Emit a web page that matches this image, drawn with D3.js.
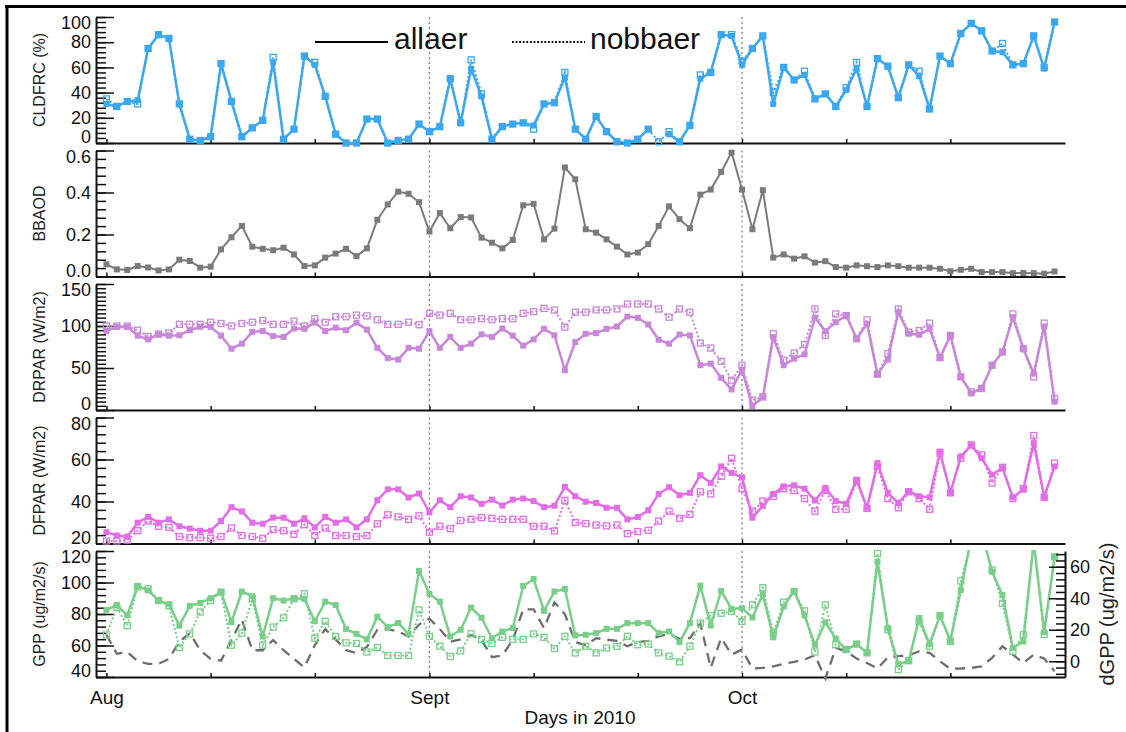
<!DOCTYPE html>
<html>
<head>
<meta charset="utf-8">
<script src="https://cdn.jsdelivr.net/npm/d3@7"></script>
<style>
  body { margin: 0; background: #fff; }
  svg { display: block; font-family: "Liberation Sans", Arial, Helvetica, sans-serif; }
</style>
</head>
<body>
<svg id="chart" width="1126" height="732"></svg>
<script>
// ---- data: daily values, 1 Aug (day 213) to 31 Oct (day 304) 2010 ----
const firstDay = 213;
const days = d3.range(firstDay, firstDay + 92);

const cldfrcAll = [31,29,33,34,75,86,83,31,3,2, 5,63,33,5,12,18,64,3,11,69,
  62,37,7,0,0,19,19,0,2,3, 15,9,13,51,16,59,37,3,13,15,
  16,14,31,32,52,11,3,21,9,1, 0,3,11,null,7,1,14,51,56,86,
  85,62,75,85,31,60,50,54,35,39, 29,42,59,29,67,61,36,62,53,27,
  69,63,87,95,89,73,72,62,63,85, 59,96];
const cldfrcNob = [35,29,33,31,75,86,83,31,3,2, 5,63,33,5,12,18,68,3,11,69,
  64,37,7,0,0,19,19,0,2,3, 15,9,13,51,16,66,39,3,13,15,
  16,11,31,32,56,11,3,21,9,1, 0,3,11,1,9,1,14,54,56,86,
  86,65,75,85,40,60,50,57,35,39, 29,44,64,29,67,61,36,62,57,27,
  69,63,87,95,89,73,79,62,63,85, 60,96];

const bbaod = [.058,.034,.031,.05,.043,.029,.034,.08,.074,.042,
  .047,.129,.187,.241,.142,.132,.125,.137,.105,.05,
  .053,.09,.109,.132,.097,.134,.27,.343,.404,.394,
  .354,.214,.302,.23,.283,.281,.185,.161,.134,.174,
  .339,.346,.177,.228,.519,.463,.225,.209,.177,.142,
  .105,.114,.154,.241,.334,.273,.23,.39,.414,.498,
  .591,.414,.225,.411,.09,.105,.085,.096,.066,.073,
  .045,.042,.053,.049,.045,.053,.049,.042,.042,.042,
  .037,.025,.032,.037,.021,.021,.021,.016,.017,.016,
  .013,.024];

const drparAll = [94,99,99,88.5,84,90,88.5,89,95,99,
  99,88.5,73,79,93,94,88,87,97,96.6,
  104,94,98,95,104,95.7,74,61.7,60,74,
  73,94,74,87,74,79,90,87,97,88.5,
  76.6,84,96.6,89,47.3,80.9,90.7,91.5,96.6,99.4,
  111.2,109.7,101.8,83.6,78.9,89.9,88.8,53.3,55.2,38.3,
  24.5,48.1,4.7,15,86.8,53.3,61.1,66.3,109.7,93.9,
  104.5,112.4,84.8,102.6,42.6,60,116.4,90.7,89.5,96.6,
  62.3,88.8,39.4,19.7,25.6,53.3,69,110.5,73,43.4,
  99.4,9.9];
const drparNob = [100,100,100,95,87.5,90.4,91.7,102,102,102,
  104.5,103,100,103,104.5,106.6,102,102,105.8,100,
  108.7,104.5,111,111,113,112,107.5,102,102,104.5,
  101.5,115,113,115,107.5,107.5,108.7,107.5,108.7,108.7,
  115,117,121,119,98.6,116.4,116.4,119.1,119.1,120.3,
  126.2,126.2,126.2,120.3,110.5,120.3,116.4,79.7,73.8,58,
  35.5,53.3,11.8,15.8,90.7,59.2,67.9,78.1,120.3,88.8,
  114.4,112.4,84.8,107.3,42.6,67.1,120.3,92.7,94.7,103.4,
  62.3,88.8,39.4,21.7,25.6,53.3,69,114.4,73,39.4,
  103.4,13.8];

const dfparAll = [25.4,23.8,23.3,29.9,32.7,29.9,31.5,28.2,27.1,26.1,
  26.1,30.7,37.3,35.3,29.9,29.4,32.3,32.3,29.4,32,
  27.7,32.7,29.9,31.5,27.7,31.5,40.6,45.8,45.8,41.9,
  43.8,34.8,40.6,37.3,42.5,41.9,38.9,40.9,38.1,40.9,
  41.4,40.2,37.3,38,47,42.5,39.9,39.3,37,37,
  31.5,32.6,35.8,43.6,46.8,43,44.1,52.5,48.8,56.7,
  53.6,51.5,32.3,37.9,43.6,47.2,47.7,46.1,40.5,46.5,
  40.2,38.9,50.4,37,58.3,44.1,39.3,44.9,42.5,42,
  63.8,44.1,61.5,66.7,60.6,52.8,55.9,42,45.7,67.8,
  42,56.7];
const dfparNob = [21.2,21.2,21.6,26.1,30.7,28.2,27.7,23.3,22.8,22.8,
  22.5,23.3,27.4,23.8,23.3,22.5,26.6,26.1,24.4,29,
  23.8,27.4,23.8,23.8,23.3,23.8,29.4,33.7,32.7,31.5,
  33.2,25.4,28.2,27.1,31,31.5,32.3,32,31.5,31.5,
  31.5,28.2,28.2,26,40.5,30,29.5,28.8,28.4,28.8,
  24.7,25.7,26.3,30.7,35.4,32,33.9,44.6,43.6,52,
  60.6,46.1,35.4,40.2,42.5,46.1,45.2,41.4,35.4,45.2,
  36.3,36.3,49.7,36.7,56.7,41.4,37,44.6,41.4,36.3,
  63.1,44.1,60.6,67,62.2,48.8,56.3,41.4,46.1,71.4,
  42,58.3];

const gppAll = [82.6,85.7,79.1,97.8,95,88.5,86.3,72.6,85.2,87,
  90,93.9,74.8,94.3,91.3,65.7,90,88.5,90,89.6,
  75.4,87.8,85.7,70.4,67.4,63.9,78.3,71.7,74.3,67.4,
  107.4,92.8,87.8,65.7,70,84.1,77.6,64.6,68.9,71.1,
  97.8,102.2,82,94.3,95.9,66.4,66.8,67.9,70.6,70.6,
  74.2,74.2,74.2,67.9,68.9,62.2,74.2,98,72.7,94.6,
  83.3,83.7,77.8,92.5,65.2,84.7,94.6,79,60.5,74.8,
  64.3,57.4,60.9,55.3,113.2,71,48.3,50,77.4,60.9,
  79,63,95.3,128,132,106.8,92,58.4,62.6,126,
  68.5,116.3];
const gppNob = [66.7,84.1,72.6,97.2,96,88.5,85.2,58.7,67.4,81.3,
  88.5,93.9,60.2,67.8,89.6,60.2,71.7,77.6,89.6,92.8,
  64.6,75.4,65.7,61.7,61.3,55.9,58.7,53.7,53.7,53.7,
  82.6,65.7,59.6,53,56.5,67.4,63.9,61.3,65.2,63.9,
  63.9,67.4,65.2,58,65.8,55.3,59.5,55.3,58.4,59.5,
  65.8,60.5,60.9,55.3,53.2,49.6,59.5,74.2,79,80.5,
  81.6,75.3,85.8,96.7,67.9,87.5,94.2,82,55.9,85.8,
  60.5,57.4,60.9,55.3,118.4,70,44.7,50.4,75.3,59.5,
  79,62.6,101,126,130,107.9,86.8,56.3,66.8,125,
  67,116.3];
const dgpp = [16.7,4.8,5.9,0,-1.7,-1.7,1.5,12.4,17.8,7,
  1.5,0.4,13.5,26.5,7,7,13.5,7,1.5,-3.9,
  10.2,20.4,13.9,7,5.2,9.1,20,20.4,18.9,15.7,
  23.3,27,20.4,12.4,13.9,16.7,13.5,2.6,3.7,13.5,
  33,33,21,37.4,29.9,12.2,10.1,14.7,13.7,13,
  9.5,12.2,13,15.8,17.3,14.3,14.7,24.2,-4.2,14.7,
  4.2,7.4,-4.6,-4.2,-3.2,-1.7,-0.4,1.1,3.8,-11,
  8.4,6.3,1.7,-1.1,-4.6,2.5,3.2,3.8,6.3,5.3,
  0,-4.8,-4.6,-4.2,-3.2,2.1,9.5,4.2,-1.1,4.2,
  1.7,-6.3];

// axis tick values and labels
const dayTicks = [213, 223, 233, 244, 254, 264, 274, 284, 294];
const monthLabels = { 213: "Aug", 244: "Sept", 274: "Oct" };
const monthLines = [244, 274];
const legendNames = ["allaer", "nobbaer"];

// ---- layout ----
const svg = d3.select("#chart");
const plotLeft = 96, plotRight = 1065;
const x = d3.scaleLinear().domain([212, 305]).range([plotLeft, plotRight]);
const panelTops = [17, 150.5, 284, 417.5, 551];
const panelH = 126;
const axisColor = "#111";
const tickFont = 18;

const step = (a, b, s) => d3.range(0, Math.round((b - a) / s) + 1).map(i => +(a + i * s).toFixed(4));

const panels = [
  { title: "CLDFRC (%)", domain: [0, 100], major: step(0, 100, 20), minor: step(0, 100, 4),
    fmt: d3.format("d"), color: "#3aa7ef", all: cldfrcAll, nob: cldfrcNob },
  { title: "BBAOD", domain: [0, 0.6], major: step(0, 0.6, 0.2), minor: step(0, 0.6, 0.04),
    fmt: d3.format(".1f"), color: "#7b7b7b", all: bbaod, nob: null },
  { title: "DRPAR (W/m2)", domain: [0, 150], major: step(0, 150, 50), minor: step(0, 150, 5),
    fmt: d3.format("d"), color: "#c987d9", all: drparAll, nob: drparNob },
  { title: "DFPAR (W/m2)", domain: [20, 80], major: step(20, 80, 20), minor: step(20, 80, 4),
    fmt: d3.format("d"), color: "#e36de6", all: dfparAll, nob: dfparNob },
  { title: "GPP (ug/m2/s)", domain: [40, 120], major: step(40, 120, 20), minor: step(40, 120, 4),
    fmt: d3.format("d"), color: "#79cf8a", all: gppAll, nob: gppNob }
];

// outer frame (top and left edges)
svg.append("line").attr("x1", 5).attr("x2", 1126).attr("y1", 6.5).attr("y2", 6.5)
  .attr("stroke", "#000").attr("stroke-width", 3);
svg.append("line").attr("x1", 7).attr("x2", 7).attr("y1", 5).attr("y2", 732)
  .attr("stroke", "#000").attr("stroke-width", 3);

// keep end labels inside the panel's vertical extent
function insetLabels(g, y, top, bottom) {
  g.selectAll(".tick text").attr("y", d => {
    const p = y(d);
    if (p - top < 6) return top + 6 - p;
    if (bottom - p < 7) return bottom - 6 - p;
    return 0;
  });
}

function styleAxis(g) {
  g.select(".domain").attr("stroke", axisColor).attr("stroke-width", 2);
  g.selectAll(".tick line").attr("stroke", axisColor).attr("stroke-width", 1.5);
  g.selectAll(".tick text").attr("fill", "#111").style("font-size", tickFont + "px")
    .style("font-family", "'Liberation Sans', Arial, sans-serif");
}

const defs = svg.append("defs");

panels.forEach((p, idx) => {
  const top = panelTops[idx], bottom = top + panelH;
  const y = d3.scaleLinear().domain(p.domain).range([bottom, top]);
  const g = svg.append("g");

  const clipId = "clip" + idx;
  defs.append("clipPath").attr("id", clipId).append("rect")
    .attr("x", plotLeft - 4).attr("y", top - 1)
    .attr("width", plotRight - plotLeft + 8).attr("height", panelH + 5);

  // dotted month separators
  monthLines.forEach(d => {
    g.append("line").attr("x1", x(d)).attr("x2", x(d)).attr("y1", top).attr("y2", bottom)
      .attr("stroke", "#777").attr("stroke-width", 1.2).attr("stroke-dasharray", "2,3");
  });

  // minor y ticks
  const minorAxis = g.append("g").attr("transform", `translate(${plotLeft},0)`)
    .call(d3.axisLeft(y).tickValues(p.minor).tickSizeInner(-10).tickSizeOuter(0).tickFormat(""));
  minorAxis.select(".domain").remove();
  minorAxis.selectAll(".tick line").attr("stroke", axisColor).attr("stroke-width", 1.5);

  // major y ticks with labels
  const yAxis = g.append("g").attr("transform", `translate(${plotLeft},0)`)
    .call(d3.axisLeft(y).tickValues(p.major).tickSizeInner(-18).tickSizeOuter(0)
      .tickPadding(5).tickFormat(p.fmt));
  styleAxis(yAxis);
  insetLabels(yAxis, y, top, bottom);

  // x axis along the panel bottom
  const xAxis = g.append("g").attr("transform", `translate(0,${bottom})`)
    .call(d3.axisBottom(x).tickValues(dayTicks).tickSizeInner(-4).tickSizeOuter(0)
      .tickPadding(14).tickFormat(idx === panels.length - 1 ? (d => monthLabels[d] || "") : ""));
  styleAxis(xAxis);
  xAxis.selectAll(".tick text").style("font-size", "19px");

  // y title
  g.append("text")
    .attr("transform", `translate(44.5,${(top + bottom) / 2}) rotate(-90)`)
    .attr("text-anchor", "middle").attr("fill", "#222").style("font-size", "16px")
    .text(p.title);

  const plot = g.append("g").attr("clip-path", `url(#${clipId})`);
  const line = d3.line().defined(d => d[1] != null).x(d => x(d[0])).y(d => y(d[1]));
  const toPts = vals => days.map((d, i) => [d, vals[i]]);

  if (idx === panels.length - 1) {
    // difference axis on the right, sharing the panel's pixel extent
    const yR = d3.scaleLinear().domain([-10, 70]).range([bottom, top]);
    const minorR = g.append("g").attr("transform", `translate(${plotRight},0)`)
      .call(d3.axisRight(yR).tickValues(step(-8, 68, 4)).tickSizeInner(-9).tickSizeOuter(0).tickFormat(""));
    minorR.select(".domain").remove();
    minorR.selectAll(".tick line").attr("stroke", axisColor).attr("stroke-width", 1.5);
    const rAxis = g.append("g").attr("transform", `translate(${plotRight},0)`)
      .call(d3.axisRight(yR).tickValues([0, 20, 40, 60]).tickSizeInner(-16).tickSizeOuter(0)
        .tickPadding(5).tickFormat(d3.format("d")));
    styleAxis(rAxis);
    g.append("text")
      .attr("transform", `translate(1114,${(top + bottom) / 2}) rotate(-90)`)
      .attr("text-anchor", "middle").attr("fill", "#222").style("font-size", "20px")
      .text("dGPP (ug/m2/s)");

    const lineR = d3.line().x(d => x(d[0])).y(d => yR(d[1]));
    plot.append("path").datum(toPts(dgpp)).attr("d", lineR)
      .attr("fill", "none").attr("stroke", "#6e6e6e").attr("stroke-width", 2.3)
      .attr("stroke-dasharray", "10,7");
  }

  // no-biomass-burning-aerosol run: dotted line, open squares
  if (p.nob) {
    const pts = toPts(p.nob).filter(d => d[1] != null);
    plot.append("path").datum(toPts(p.nob)).attr("d", line)
      .attr("fill", "none").attr("stroke", p.color).attr("stroke-width", 2)
      .attr("stroke-dasharray", "2,2.2");
    plot.selectAll(null).data(pts).join("rect")
      .attr("x", d => x(d[0]) - 3).attr("y", d => y(d[1]) - 3)
      .attr("width", 6).attr("height", 6)
      .attr("fill", "none").attr("stroke", p.color).attr("stroke-width", 1.3);
  }

  // all-aerosol run: solid line, filled squares
  const ptsAll = toPts(p.all).filter(d => d[1] != null);
  plot.append("path").datum(toPts(p.all)).attr("d", line)
    .attr("fill", "none").attr("stroke", p.color).attr("stroke-width", idx === 1 ? 2 : 2.5)
    .attr("stroke-linejoin", "round");
  plot.selectAll(null).data(ptsAll).join("rect")
    .attr("x", d => x(d[0]) - 3).attr("y", d => y(d[1]) - 3)
    .attr("width", 6).attr("height", 6).attr("fill", p.color);
});

// x-axis title
svg.append("text").attr("x", 580).attr("y", 724).attr("text-anchor", "middle")
  .attr("fill", "#111").style("font-size", "19px").text("Days in 2010");

// legend
const legend = svg.append("g");
legend.append("line").attr("x1", 315).attr("x2", 388).attr("y1", 42).attr("y2", 42)
  .attr("stroke", "#000").attr("stroke-width", 2);
legend.append("text").attr("x", 394).attr("y", 49).style("font-size", "30px").attr("fill", "#111")
  .text(legendNames[0]);
legend.append("line").attr("x1", 512).attr("x2", 585).attr("y1", 42).attr("y2", 42)
  .attr("stroke", "#000").attr("stroke-width", 2).attr("stroke-dasharray", "1.8,1.8");
legend.append("text").attr("x", 590).attr("y", 49).style("font-size", "30px").attr("fill", "#111")
  .text(legendNames[1]);
</script>
</body>
</html>
